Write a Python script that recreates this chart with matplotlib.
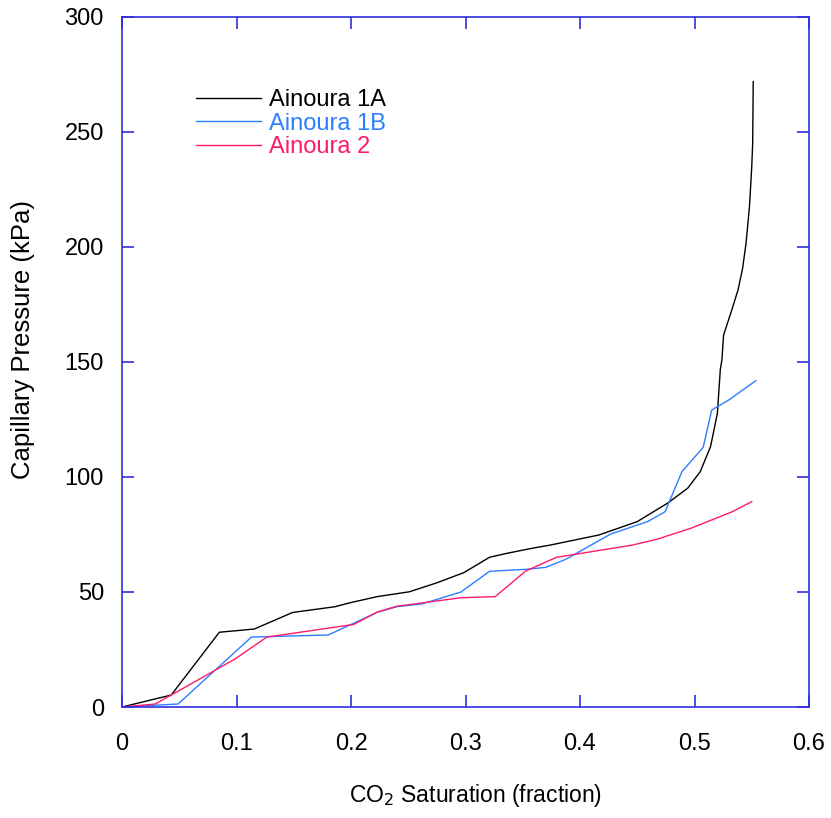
import matplotlib
matplotlib.use("Agg")
import matplotlib.pyplot as plt

plt.rcParams['font.family'] = ['Liberation Sans', 'DejaVu Sans']

# Ainoura 1A
x_1a = [0.0, 0.043, 0.085, 0.1155, 0.149, 0.186, 0.199, 0.223, 0.251, 0.275, 0.2985,
        0.321, 0.336, 0.358, 0.374, 0.4166, 0.450, 0.4764, 0.494, 0.505, 0.514, 0.520,
        0.5225, 0.524, 0.5254, 0.533, 0.538, 0.542, 0.545, 0.548, 0.550, 0.5508, 0.5513]
y_1a = [0.0, 5.2, 32.5, 33.9, 41.1, 43.6, 45.3, 48.0, 50.1, 54.0, 58.4,
        65.1, 66.8, 69.0, 70.4, 74.8, 80.6, 88.6, 95.1, 102.3, 113.2, 127.7,
        146.5, 151.2, 161.7, 173.3, 181.3, 190.7, 201.6, 217.5, 234.9, 245.0, 271.9]

# Ainoura 1B
x_1b = [0.0, 0.049, 0.113, 0.180, 0.201, 0.223, 0.240, 0.262, 0.296, 0.321, 0.354,
        0.370, 0.3875, 0.4268, 0.459, 0.4743, 0.489, 0.5076, 0.515, 0.530, 0.5536]
y_1b = [0.0, 1.3, 30.4, 31.3, 36.1, 41.2, 43.6, 44.8, 50.0, 59.0, 59.9,
        60.7, 64.2, 75.2, 80.6, 84.9, 102.3, 112.9, 129.1, 133.5, 141.9]

# Ainoura 2
x_2 = [0.0, 0.029, 0.043, 0.0988, 0.1265, 0.2024, 0.223, 0.240, 0.296, 0.326, 0.3525,
       0.3796, 0.4458, 0.4676, 0.4968, 0.533, 0.550]
y_2 = [0.0, 1.3, 5.2, 20.9, 30.4, 35.9, 41.3, 43.8, 47.5, 48.0, 59.1,
       65.1, 70.4, 73.0, 77.7, 84.9, 89.3]

labels = ['Ainoura 1A', 'Ainoura 1B', 'Ainoura 2']
colors = ['#000000', '#2a7fff', '#ff1a6a']

xticks = [0, 0.1, 0.2, 0.3, 0.4, 0.5, 0.6]
xticklabels = ['0', '0.1', '0.2', '0.3', '0.4', '0.5', '0.6']
yticks = [0, 50, 100, 150, 200, 250, 300]

fig = plt.figure(figsize=(8.31, 8.18), dpi=100)
ax = fig.add_axes([122/831, 1 - 707/818, (809 - 122)/831, (707 - 17)/818])

for xs, ys, lab, c in zip([x_1a, x_1b, x_2], [y_1a, y_1b, y_2], labels, colors):
    ax.plot(xs, ys, color=c, lw=1.0, label=lab)

ax.set_xlim(0, 0.6)
ax.set_ylim(0, 300)
ax.set_xticks(xticks)
ax.set_xticklabels(xticklabels)
ax.set_yticks(yticks)

axis_color = '#3030e0'
for s in ax.spines.values():
    s.set_color(axis_color)
    s.set_linewidth(1.2)
ax.tick_params(direction='in', length=8.6, width=1.2, color=axis_color,
               top=True, right=True, labelsize=17, labelcolor='black')
ax.tick_params(axis='x', pad=19)
ax.tick_params(axis='y', pad=13)

ax.set_ylabel('Capillary Pressure (kPa)', fontsize=18.5)
ax.yaxis.set_label_coords(-0.127, 0.533)
ax.set_xlabel('CO$_2$ Saturation (fraction)', fontsize=16.5)
ax.xaxis.set_label_coords(0.5146, -0.108)

leg = ax.legend(loc='upper left', bbox_to_anchor=(0.1077, 0.895), frameon=False,
                fontsize=17, handlelength=2.75, handletextpad=0.34,
                labelspacing=0.05, borderaxespad=0, borderpad=0)
for t, c in zip(leg.get_texts(), colors):
    t.set_color(c)

fig.savefig('out.png', dpi=100)
